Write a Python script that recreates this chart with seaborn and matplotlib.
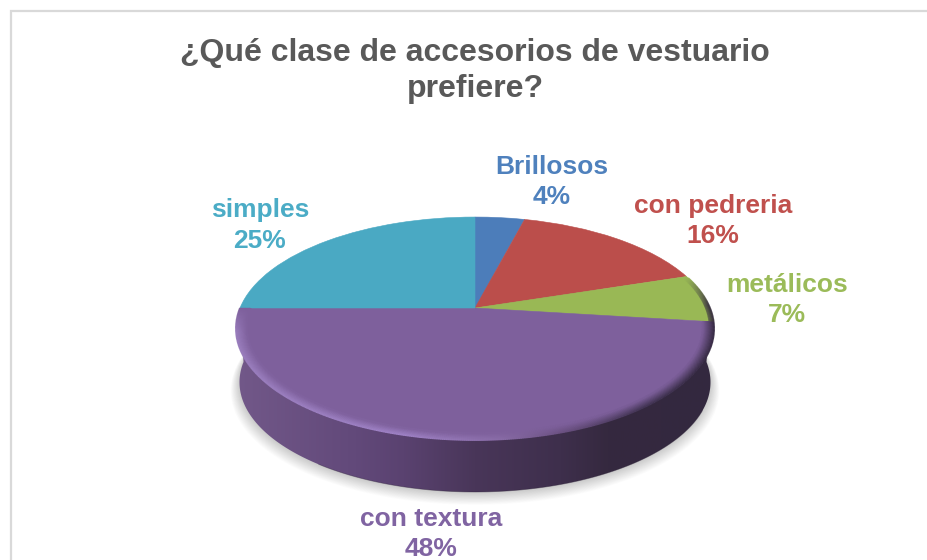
import numpy as np
import matplotlib
matplotlib.use("Agg")
import matplotlib.pyplot as plt
import seaborn as sns
from matplotlib.collections import LineCollection
from matplotlib.colors import LinearSegmentedColormap, to_rgb
from matplotlib.patches import Polygon
from matplotlib.transforms import Transform

# Daten
categorias = ["Brillosos", "con pedreria", "metálicos", "con textura", "simples"]
valores = [4, 16, 7, 48, 25]
titulo = "¿Qué clase de accesorios de vestuario\nprefiere?"

# Farben
colores_sector = ["#4c7dba", "#bb4e4b", "#99b855", "#7e609c", "#4aa9c3"]
colores_texto = ["#4f81bd", "#c0504d", "#9bbb59", "#8064a2", "#4bacc6"]

# Layout in Pixeln
pos_etiquetas = [(552, 182), (713, 221), (787, 300), (431, 534), (260, 225.5)]
CX, CY = 475, 308
A, B, K = 235, 107.7, 0.184
PROF, ESC_BASE = 54, 0.985


class Perspectiva(Transform):
    """Kreis mit Radius 1 -> gekippte Scheibe in Pixelkoordinaten"""
    input_dims = 2
    output_dims = 2

    def __init__(self, escala=1.0, dy=0.0):
        super().__init__()
        self.escala = escala
        self.dy = dy

    def transform_non_affine(self, values):
        values = np.asarray(values)
        u, v = values[:, 0], values[:, 1]
        w = 1 + K * v
        x = CX + self.escala * A * u / w
        y = CY + self.dy - self.escala * B * v / w
        return np.column_stack([x, y])


def arco(desde, hasta, n=400, r=1.0):
    t = np.radians(np.linspace(desde, hasta, n))
    return np.column_stack([r * np.cos(t), r * np.sin(t)])


sns.set_theme(style="white")
plt.rcParams["font.family"] = ["Liberation Sans", "DejaVu Sans"]

fig = plt.figure(figsize=(9.28, 5.6), dpi=100)
ax = fig.add_axes([0, 0, 1, 1])
palette = sns.color_palette(colores_sector)

# Tortendiagramm
wedges, _ = ax.pie(valores, startangle=90, counterclock=False, colors=palette)
ax.set_aspect("auto")
ax.set_position([0, 0, 1, 1])
ax.set_xlim(0, 928)
ax.set_ylim(560, 0)
tapa = Perspectiva()
for w in wedges:
    w.set_transform(tapa + ax.transData)
    w.set_edgecolor(w.get_facecolor())
    w.set_linewidth(0.4)
    w.set_zorder(3)

# Rahmen
ax.plot([11, 11, 928], [560, 10.5, 10.5], color="#d9d9d9", lw=1.6, zorder=0,
        solid_joinstyle="miter")

# Schatten
for s, dy in zip(np.linspace(1.022, 0.97, 24), np.linspace(62, 52, 24)):
    pts = Perspectiva(s, dy).transform(arco(0, 360))
    ax.add_patch(Polygon(pts, closed=True, fc="black", ec="none", alpha=0.011, zorder=1))

# Seitenwand mit Verlauf
base = Perspectiva(ESC_BASE, PROF)
pts_sup = tapa.transform(arco(180, 360))
pts_inf = base.transform(arco(360, 180))
lado = Polygon(np.vstack([pts_sup, pts_inf]), closed=True, fc="none", ec="none", zorder=2)
ax.add_patch(lado)
cmap_lado = LinearSegmentedColormap.from_list("lado", [
    (0.0, "#725889"), (0.25, "#62497a"), (0.35, "#5a4270"), (0.5, "#493659"),
    (0.68, "#3e2f4c"), (0.78, "#35293f"), (1.0, "#33283f")])
im = ax.imshow(np.linspace(0, 1, 256).reshape(1, -1), cmap=cmap_lado, aspect="auto",
               extent=(236, 714, 560, 200), zorder=2)
im.set_clip_path(lado)
ax.set_xlim(0, 928)
ax.set_ylim(560, 0)
ax.plot(*base.transform(arco(235, 335)).T, color="#2e2339", lw=0.6, alpha=0.4, zorder=2.5)

# Fase am Rand
fin_purpura = 90 - sum(valores[:3]) * 3.6 + 360
fin_fase = 90 - sum(valores[:2]) * 3.6 + 360 - 1
cmap_fase = LinearSegmentedColormap.from_list("fase", [
    (0.0, "#9c80c0"), (0.35, "#a184c8"), (0.55, "#8a6da8"), (0.68, "#6a5080"),
    (0.85, "#3f3250"), (1.0, "#33283f")])
rgb_purpura = np.array(to_rgb(colores_sector[3]))
rgb_verde = np.array(to_rgb(colores_sector[2]))
capas = 14
angulos = np.linspace(180, fin_fase, 500)
for j in range(capas):
    r = 1 - 0.0035 * j
    peso = 1 - j / capas
    pts = tapa.transform(arco(180, fin_fase, 500, r))
    frac = np.clip((pts[:, 0] - 236) / 478, 0, 1)
    objetivo = cmap_fase(frac)[:, :3]
    rgb = np.where((angulos[:, None] < fin_purpura), rgb_purpura, rgb_verde)
    fade = peso * np.clip((angulos - 180) / 12, 0, 1) * np.clip((fin_fase - angulos) / 16, 0, 1)
    # auf dem gruenen Sektor nur die aeusseren Lagen
    fade = np.where(angulos < fin_purpura, fade, fade * (j < 6))
    col = rgb + (objetivo - rgb) * fade[:, None]
    segs = np.stack([pts[:-1], pts[1:]], axis=1)
    mascara = (fade[:-1] > 0) | (angulos[:-1] < fin_purpura)
    ax.add_collection(LineCollection(segs[mascara], colors=col[:-1][mascara], linewidths=1.3,
                                     zorder=4 + 0.01 * j, capstyle="butt"), autolim=False)

# Texte
ax.text(475, 71, titulo, ha="center", va="center", fontsize=23, fontweight="bold",
        color="#595959", linespacing=1.22, zorder=5)
for nombre, valor, color, (x, y) in zip(categorias, valores, colores_texto, pos_etiquetas):
    ax.text(x, y, f"{nombre}\n{valor}%", ha="center", va="center", fontsize=19,
            fontweight="bold", color=color, linespacing=1.35, zorder=5)

fig.savefig("out.png", dpi=100)
plt.close(fig)
